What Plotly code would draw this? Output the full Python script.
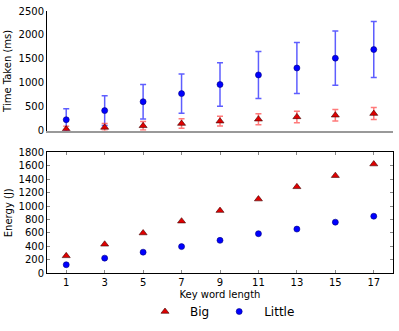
import plotly.graph_objects as go

key_lengths = [1, 3, 5, 7, 9, 11, 13, 15, 17]

time_little = [230, 420, 606, 775, 965, 1165, 1310, 1515, 1695]
time_little_err = [230, 310, 360, 410, 455, 490, 530, 565, 585]
time_big = [34, 69, 103, 150, 200, 241, 289, 324, 358]
time_big_err = [60, 80, 90, 100, 100, 115, 120, 120, 125]

energy_big = [256, 429, 597, 774, 932, 1104, 1287, 1454, 1627]
energy_little = [123, 222, 311, 394, 488, 587, 656, 759, 848]

time_ticks = [0, 500, 1000, 1500, 2000, 2500]
energy_ticks = [0, 200, 400, 600, 800, 1000, 1200, 1400, 1600, 1800]

FONT = "DejaVu Sans"
BLUE = "#0000ff"
RED = "#e00000"

fig = go.Figure()

# Top panel: time taken
fig.add_trace(go.Scatter(
    x=key_lengths, y=time_little, mode="markers", name="Little",
    legendrank=2,
    marker=dict(symbol="circle", size=6, color=BLUE, line=dict(color="#000080", width=0.6)),
    error_y=dict(type="data", array=time_little_err, color="rgba(40,40,255,0.75)", thickness=1.5, width=3),
    xaxis="x", yaxis="y",
))
fig.add_trace(go.Scatter(
    x=key_lengths, y=time_big, mode="markers", name="Big",
    legendrank=1,
    marker=dict(symbol="triangle-up", size=7, color=RED, line=dict(color="#400000", width=0.6)),
    error_y=dict(type="data", array=time_big_err, color="rgba(255,50,50,0.65)", thickness=1.5, width=3),
    xaxis="x", yaxis="y",
))

# Bottom panel: energy
fig.add_trace(go.Scatter(
    x=key_lengths, y=energy_little, mode="markers", name="Little", showlegend=False,
    marker=dict(symbol="circle", size=6, color=BLUE, line=dict(color="#000080", width=0.6)),
    xaxis="x2", yaxis="y2",
))
fig.add_trace(go.Scatter(
    x=key_lengths, y=energy_big, mode="markers", name="Big", showlegend=False,
    marker=dict(symbol="triangle-up", size=7, color=RED, line=dict(color="#400000", width=0.6)),
    xaxis="x2", yaxis="y2",
))

tickfont = dict(family=FONT, size=10, color="black")
titlefont = dict(family=FONT, size=10, color="black")

fig.update_layout(
    width=399, height=331,
    margin=dict(l=47, r=5, t=9, b=57),
    paper_bgcolor="white", plot_bgcolor="white",
    font=dict(family=FONT, size=10, color="black"),
    xaxis=dict(
        domain=[0, 1], anchor="y", range=[0, 18],
        tickvals=key_lengths, showticklabels=False, ticks="",
        showgrid=False, zeroline=False,
        showline=True, linecolor="#999999", linewidth=1.5,
    ),
    yaxis=dict(
        domain=[0.543, 1], anchor="x", range=[0, 2500],
        tickvals=time_ticks, ticktext=[str(v) for v in time_ticks],
        tickfont=tickfont, ticks="", showgrid=False, zeroline=False,
        showline=True, linecolor="black", linewidth=1,
        title=dict(text="Time Taken (ms)", font=titlefont, standoff=5),
    ),
    xaxis2=dict(
        domain=[0, 1], anchor="y2", range=[0, 18],
        tickvals=key_lengths, ticktext=[str(v) for v in key_lengths],
        tickfont=tickfont, ticks="inside", ticklen=3, tickcolor="#888888",
        mirror="ticks", showgrid=False, zeroline=False,
        showline=True, linecolor="black", linewidth=1,
        title=dict(text="Key word length", font=titlefont, standoff=3),
    ),
    yaxis2=dict(
        domain=[0, 0.460], anchor="x2", range=[0, 1800],
        tickvals=energy_ticks, ticktext=[str(v) for v in energy_ticks],
        tickfont=tickfont, ticks="inside", ticklen=3, tickcolor="#888888",
        mirror="ticks", showgrid=False, zeroline=False,
        showline=True, linecolor="black", linewidth=1,
        title=dict(text="Energy (J)", font=titlefont, standoff=4),
    ),
    legend=dict(
        orientation="h", x=0.5, xanchor="center", y=-0.147, yanchor="middle",
        font=dict(family=FONT, size=12, color="black"),
        bgcolor="rgba(0,0,0,0)", itemwidth=40,
    ),
    showlegend=True,
)

fig.write_html("out.html", config={"displayModeBar": False},
               post_script="document.body.style.margin='0';")
